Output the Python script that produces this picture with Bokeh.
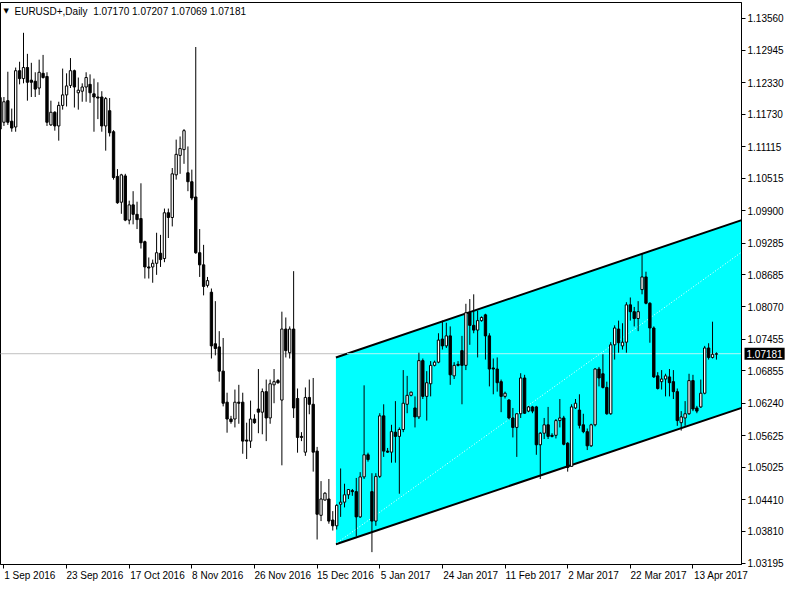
import numpy as np
from bokeh.plotting import figure
from bokeh.models import Range1d, FixedTicker, LinearAxis, PrintfTickFormatter, Label
from bokeh.embed import file_html
from bokeh.resources import INLINE

symbol = "EURUSD+,Daily"

tick_bars = [0, 16, 32, 48, 64, 80, 96, 112, 128, 144, 160, 176]
tick_labels = ["1 Sep 2016", "23 Sep 2016", "17 Oct 2016", "8 Nov 2016", "26 Nov 2016",
               "15 Dec 2016", "5 Jan 2017", "24 Jan 2017", "11 Feb 2017", "2 Mar 2017",
               "22 Mar 2017", "13 Apr 2017"]

price_ticks = [1.13560, 1.12945, 1.12330, 1.11730, 1.11115, 1.10515, 1.09900, 1.09285,
               1.08685, 1.08070, 1.07455, 1.06855, 1.06240, 1.05625, 1.05025, 1.04410,
               1.03810, 1.03195]

first_bar = -1
opens = [1.1205, 1.1158, 1.1199, 1.1160, 1.1149, 1.1256, 1.1241, 1.1262, 1.1238, 1.1236,
         1.1223, 1.1251, 1.1245, 1.1153, 1.1177, 1.1151, 1.1190, 1.1210, 1.1228, 1.1256,
         1.1214, 1.1217, 1.1225, 1.1230, 1.1212, 1.1206, 1.1206, 1.1151, 1.1180, 1.1140,
         1.1055, 1.1006, 1.1056, 1.0972, 1.1001, 1.0983, 1.0975, 1.0931, 1.0883, 1.0883,
         1.0890, 1.0909, 1.0899, 1.0986, 1.0977, 1.1058, 1.1095, 1.1106, 1.1062, 1.1045,
         1.1016, 1.0910, 1.0887, 1.0848, 1.0835, 1.0737, 1.0731, 1.0685, 1.0626, 1.0594,
         1.0594, 1.0626, 1.0626, 1.0554, 1.0552, 1.0594, 1.0613, 1.0607, 1.0646, 1.0596,
         1.0659, 1.0667, 1.0630, 1.0765, 1.0720, 1.0765, 1.0633, 1.0561, 1.0531, 1.0635,
         1.0622, 1.0533, 1.0411, 1.0440, 1.0442, 1.0402, 1.0391, 1.0432, 1.0436, 1.0450,
         1.0458, 1.0456, 1.0408, 1.0484, 1.0526, 1.0456, 1.0400, 1.0485, 1.0600, 1.0533,
         1.0531, 1.0569, 1.0561, 1.0574, 1.0622, 1.0639, 1.0615, 1.0598, 1.0705, 1.0637,
         1.0661, 1.0696, 1.0702, 1.0746, 1.0733, 1.0752, 1.0676, 1.0698, 1.0724, 1.0696,
         1.0796, 1.0772, 1.0763, 1.0781, 1.0792, 1.0752, 1.0691, 1.0689, 1.0665, 1.0637,
         1.0630, 1.0596, 1.0578, 1.0604, 1.0672, 1.0609, 1.0617, 1.0617, 1.0545, 1.0567,
         1.0583, 1.0563, 1.0563, 1.0591, 1.0596, 1.0548, 1.0504, 1.0615, 1.0611, 1.0583,
         1.0570, 1.0543, 1.0583, 1.0689, 1.0680, 1.0654, 1.0604, 1.0735, 1.0765, 1.0733,
         1.0740, 1.0811, 1.0798, 1.0785, 1.0840, 1.0864, 1.0814, 1.0767, 1.0676, 1.0665,
         1.0670, 1.0674, 1.0665, 1.0646, 1.0587, 1.0596, 1.0604, 1.0667, 1.0615, 1.0617,
         1.0643, 1.0729, 1.0711, 1.07170]
highs = [1.1210, 1.1206, 1.1254, 1.1184, 1.1262, 1.1273, 1.1328, 1.1288, 1.1271, 1.1253,
         1.1277, 1.1286, 1.1253, 1.1199, 1.1179, 1.1197, 1.1260, 1.1251, 1.1280, 1.1258,
         1.1243, 1.1232, 1.1253, 1.1249, 1.1241, 1.1234, 1.1217, 1.1206, 1.1204, 1.1143,
         1.1069, 1.1060, 1.1060, 1.1009, 1.1027, 1.1007, 1.1042, 1.0933, 1.0901, 1.0897,
         1.0948, 1.0944, 1.0994, 1.0994, 1.1071, 1.1125, 1.1131, 1.1145, 1.1112, 1.1068,
         1.1301, 1.0955, 1.0925, 1.0864, 1.0842, 1.0818, 1.0761, 1.0748, 1.0644, 1.0600,
         1.0650, 1.0659, 1.0644, 1.0587, 1.0629, 1.0603, 1.0689, 1.0652, 1.0669, 1.0669,
         1.0689, 1.0670, 1.0798, 1.0787, 1.0770, 1.0875, 1.0652, 1.0569, 1.0654, 1.0669,
         1.0672, 1.0541, 1.0476, 1.0455, 1.0480, 1.0419, 1.0432, 1.0500, 1.0471, 1.0461,
         1.0461, 1.0482, 1.0493, 1.0658, 1.0530, 1.0491, 1.0491, 1.0605, 1.0622, 1.0539,
         1.0583, 1.0628, 1.0578, 1.0687, 1.0676, 1.0646, 1.0637, 1.0720, 1.0709, 1.0685,
         1.0704, 1.0705, 1.0757, 1.0781, 1.0777, 1.0770, 1.0702, 1.0704, 1.0752, 1.0813,
         1.0822, 1.0831, 1.0800, 1.0789, 1.0794, 1.0757, 1.0709, 1.0711, 1.0669, 1.0646,
         1.0632, 1.0615, 1.0605, 1.0681, 1.0678, 1.0619, 1.0619, 1.0619, 1.0569, 1.0596,
         1.0617, 1.0567, 1.0594, 1.0632, 1.0600, 1.0550, 1.0622, 1.0632, 1.0641, 1.0604,
         1.0576, 1.0585, 1.0691, 1.0693, 1.0717, 1.0665, 1.0740, 1.0772, 1.0781, 1.0776,
         1.0816, 1.0825, 1.0807, 1.0818, 1.0909, 1.0874, 1.0816, 1.0770, 1.0683, 1.0687,
         1.0680, 1.0689, 1.0687, 1.0652, 1.0609, 1.0628, 1.0680, 1.0678, 1.0619, 1.0669,
         1.0733, 1.0738, 1.0779, 1.07207]
lows = [1.1127, 1.1151, 1.1153, 1.1140, 1.1140, 1.1230, 1.1232, 1.1199, 1.1206, 1.1206,
        1.1210, 1.1241, 1.1151, 1.1151, 1.1142, 1.1123, 1.1182, 1.1188, 1.1223, 1.1186,
        1.1182, 1.1197, 1.1197, 1.1195, 1.1140, 1.1164, 1.1140, 1.1104, 1.1131, 1.1049,
        1.1003, 1.0984, 1.0970, 1.0964, 1.0964, 1.0955, 1.0918, 1.0861, 1.0861, 1.0853,
        1.0868, 1.0883, 1.0892, 1.0938, 1.0960, 1.1049, 1.1060, 1.1079, 1.1027, 1.1010,
        1.0908, 1.0864, 1.0829, 1.0844, 1.0709, 1.0715, 1.0665, 1.0618, 1.0568, 1.0585,
        1.0578, 1.0585, 1.0528, 1.0518, 1.0539, 1.0585, 1.0567, 1.0565, 1.0552, 1.0585,
        1.0624, 1.0661, 1.0506, 1.0711, 1.0709, 1.0596, 1.0530, 1.0552, 1.0524, 1.0603,
        1.0494, 1.0365, 1.0400, 1.0439, 1.0395, 1.0382, 1.0384, 1.0408, 1.0426, 1.0442,
        1.0448, 1.0371, 1.0406, 1.0480, 1.0513, 1.0341, 1.0391, 1.0482, 1.0522, 1.0530,
        1.0511, 1.0511, 1.0452, 1.0569, 1.0605, 1.0637, 1.0578, 1.0594, 1.0632, 1.0591,
        1.0637, 1.0694, 1.0700, 1.0726, 1.0729, 1.0659, 1.0670, 1.0694, 1.0622, 1.0687,
        1.0735, 1.0757, 1.0711, 1.0779, 1.0707, 1.0656, 1.0641, 1.0646, 1.0607, 1.0633,
        1.0593, 1.0559, 1.0522, 1.0596, 1.0604, 1.0607, 1.0605, 1.0526, 1.0480, 1.0556,
        1.0556, 1.0559, 1.0557, 1.0578, 1.0544, 1.0494, 1.0504, 1.0613, 1.0576, 1.0567,
        1.0535, 1.0541, 1.0580, 1.0656, 1.0652, 1.0602, 1.0602, 1.0707, 1.0720, 1.0726,
        1.0720, 1.0781, 1.0770, 1.0761, 1.0831, 1.0812, 1.0739, 1.0672, 1.0650, 1.0650,
        1.0637, 1.0637, 1.0632, 1.0581, 1.0572, 1.0581, 1.0602, 1.0609, 1.0605, 1.0615,
        1.0641, 1.0707, 1.0709, 1.07069]
closes = [1.1145, 1.1197, 1.1158, 1.1147, 1.1256, 1.1241, 1.1262, 1.1234, 1.1234, 1.1221,
          1.1253, 1.1243, 1.1158, 1.1177, 1.1151, 1.1190, 1.1210, 1.1227, 1.1256, 1.1225,
          1.1219, 1.1225, 1.1243, 1.1214, 1.1206, 1.1204, 1.1151, 1.1203, 1.1138, 1.1053,
          1.1005, 1.1058, 1.0972, 1.1001, 1.0983, 1.0973, 1.0929, 1.0883, 1.0881, 1.0890,
          1.0910, 1.0897, 1.0986, 1.0977, 1.1060, 1.1097, 1.1108, 1.1142, 1.1045, 1.1014,
          1.0910, 1.0887, 1.0846, 1.0857, 1.0733, 1.0728, 1.0685, 1.0624, 1.0594, 1.0589,
          1.0626, 1.0624, 1.0552, 1.0552, 1.0594, 1.0587, 1.0607, 1.0646, 1.0596, 1.0661,
          1.0665, 1.0663, 1.0765, 1.0724, 1.0765, 1.0615, 1.0559, 1.0559, 1.0635, 1.0622,
          1.0531, 1.0413, 1.0442, 1.0453, 1.0400, 1.0391, 1.0430, 1.0436, 1.0450, 1.0460,
          1.0456, 1.0408, 1.0484, 1.0526, 1.0517, 1.0400, 1.0485, 1.0600, 1.0533, 1.0531,
          1.0570, 1.0561, 1.0574, 1.0624, 1.0639, 1.0645, 1.0598, 1.0705, 1.0637, 1.0663,
          1.0696, 1.0702, 1.0744, 1.0733, 1.0752, 1.0678, 1.0696, 1.0696, 1.0696, 1.0796,
          1.0772, 1.0763, 1.0781, 1.0787, 1.0752, 1.0689, 1.0689, 1.0663, 1.0637, 1.0643,
          1.0596, 1.0578, 1.0604, 1.0672, 1.0605, 1.0617, 1.0609, 1.0545, 1.0567, 1.0583,
          1.0561, 1.0561, 1.0591, 1.0596, 1.0546, 1.0502, 1.0617, 1.0624, 1.0582, 1.0570,
          1.0543, 1.0583, 1.0689, 1.0672, 1.0654, 1.0604, 1.0735, 1.0767, 1.0739, 1.0740,
          1.0811, 1.0798, 1.0785, 1.0798, 1.0864, 1.0814, 1.0767, 1.0674, 1.0652, 1.0670,
          1.0676, 1.0663, 1.0646, 1.0591, 1.0598, 1.0604, 1.0667, 1.0613, 1.0609, 1.0643,
          1.0729, 1.0711, 1.0717, 1.07181]

# equidistant channel anchors (bar index, price)
chan_bars = [84.8, 188.4]
chan_lower = [1.0356, 1.0615]
chan_upper = [1.0711, 1.0972]
# dotted trend line
trend_bars = [84.6, 188.4]
trend_prices = [1.0356, 1.0911]

o = np.array(opens); h = np.array(highs); l = np.array(lows); c = np.array(closes)
bars = np.arange(len(o)) + first_bar
bid = closes[-1]

x_start, x_end = -0.875, 188.4
p = figure(frame_width=741, frame_height=562,
           x_range=Range1d(x_start, x_end), y_range=Range1d(1.03175, 1.13856),
           output_backend="svg", toolbar_location=None,
           y_axis_location="right", x_axis_location="below",
           min_border_left=0, min_border_top=2, min_border_right=0, min_border_bottom=0,
           background_fill_color="white", border_fill_color="white",
           outline_line_color="black", outline_line_width=1)
p.grid.visible = False

FONT = "Liberation Sans"

ya = p.yaxis[0]
ya.ticker = FixedTicker(ticks=price_ticks)
ya.formatter = PrintfTickFormatter(format="%.5f")
ya.major_tick_out = 4
ya.major_tick_in = 0
ya.minor_tick_out = 0
ya.minor_tick_in = 0
ya.major_label_standoff = 2
ya.major_label_text_font = FONT
ya.major_label_text_font_size = "10px"
ya.major_label_text_color = "black"
ya.axis_line_color = "black"
ya.major_tick_line_color = "black"

# tick marks only (labels are drawn by the axis below, right of each tick)
xa = p.xaxis[0]
xa.ticker = FixedTicker(ticks=tick_bars)
xa.major_tick_out = 4
xa.major_tick_in = 0
xa.minor_tick_out = 0
xa.minor_tick_in = 0
xa.major_label_text_font_size = "0px"
xa.major_label_text_color = None
xa.major_label_standoff = 0
xa.axis_line_color = "black"
xa.major_tick_line_color = "black"

label_pos = [round(b + 0.4 + 0.62 * len(t), 2) for b, t in zip(tick_bars, tick_labels)]
xl = LinearAxis(ticker=FixedTicker(ticks=label_pos),
                major_label_overrides={pos: t for pos, t in zip(label_pos, tick_labels)},
                axis_line_color=None, major_tick_line_color=None, minor_tick_line_color=None,
                major_tick_out=0, major_tick_in=0, minor_tick_out=0, minor_tick_in=0,
                major_label_standoff=1, major_label_text_font=FONT,
                major_label_text_font_size="10px", major_label_text_color="black")
p.add_layout(xl, "below")

# bid line under the channel
p.line([x_start - 1, x_end + 4], [bid, bid], line_color="#C0C0C0", line_width=1)

def at(xs, ys, x):
    return ys[0] + (ys[1] - ys[0]) * (x - xs[0]) / (xs[1] - xs[0])

ext = x_end + 4
poly_x = [chan_bars[0], ext, ext, chan_bars[0]]
poly_y = [chan_lower[0], at(chan_bars, chan_lower, ext), at(chan_bars, chan_upper, ext), chan_upper[0]]
p.patch(poly_x, poly_y, fill_color="#00FFFF", line_color=None)
p.line([chan_bars[0], ext], [chan_lower[0], at(chan_bars, chan_lower, ext)], line_color="black", line_width=2)
p.line([chan_bars[0], ext], [chan_upper[0], at(chan_bars, chan_upper, ext)], line_color="black", line_width=2)

# bid line seen through the channel
slope_u = (chan_upper[1] - chan_upper[0]) / (chan_bars[1] - chan_bars[0])
x_in = chan_bars[0] + (bid - chan_upper[0]) / slope_u
p.line([x_in, ext], [bid, bid], line_color="#B4F7F7", line_width=1)

p.line(trend_bars, trend_prices, line_color="white", line_width=1, line_dash="1 2")

# candles
p.segment(x0=bars, y0=l, x1=bars, y1=h, line_color="black", line_width=1)
top = np.maximum(o, c)
bot = np.minimum(o, c)
fills = ["white" if cc >= oo else "black" for oo, cc in zip(opens, closes)]
p.vbar(x=bars, width=0.6, top=top, bottom=bot, fill_color=fills, line_color="black", line_width=1)

# header
p.add_layout(Label(x=x_start, y=1.13856, x_offset=3, y_offset=-4, text="\u25bc",
                   text_font="DejaVu Sans", text_font_size="7px", text_baseline="top",
                   text_color="black"))
header = f"{symbol}\u00a0\u00a0{opens[-1]:.5f} {highs[-1]:.5f} {lows[-1]:.5f} {closes[-1]:.5f}"
p.add_layout(Label(x=x_start, y=1.13856, x_offset=14, y_offset=-3, text=header,
                   text_font=FONT, text_font_size="10px", text_baseline="top",
                   text_color="black"))

# current price box on the price scale (side panel, so it is not clipped to the frame)
p.add_layout(Label(x=x_end, y=bid, x_offset=3, text=f"{bid:.5f}",
                   text_font=FONT, text_font_size="10px", text_baseline="middle",
                   text_color="white", background_fill_color="black", padding=2), "right")

open("out.html", "w").write(file_html(p, INLINE))
